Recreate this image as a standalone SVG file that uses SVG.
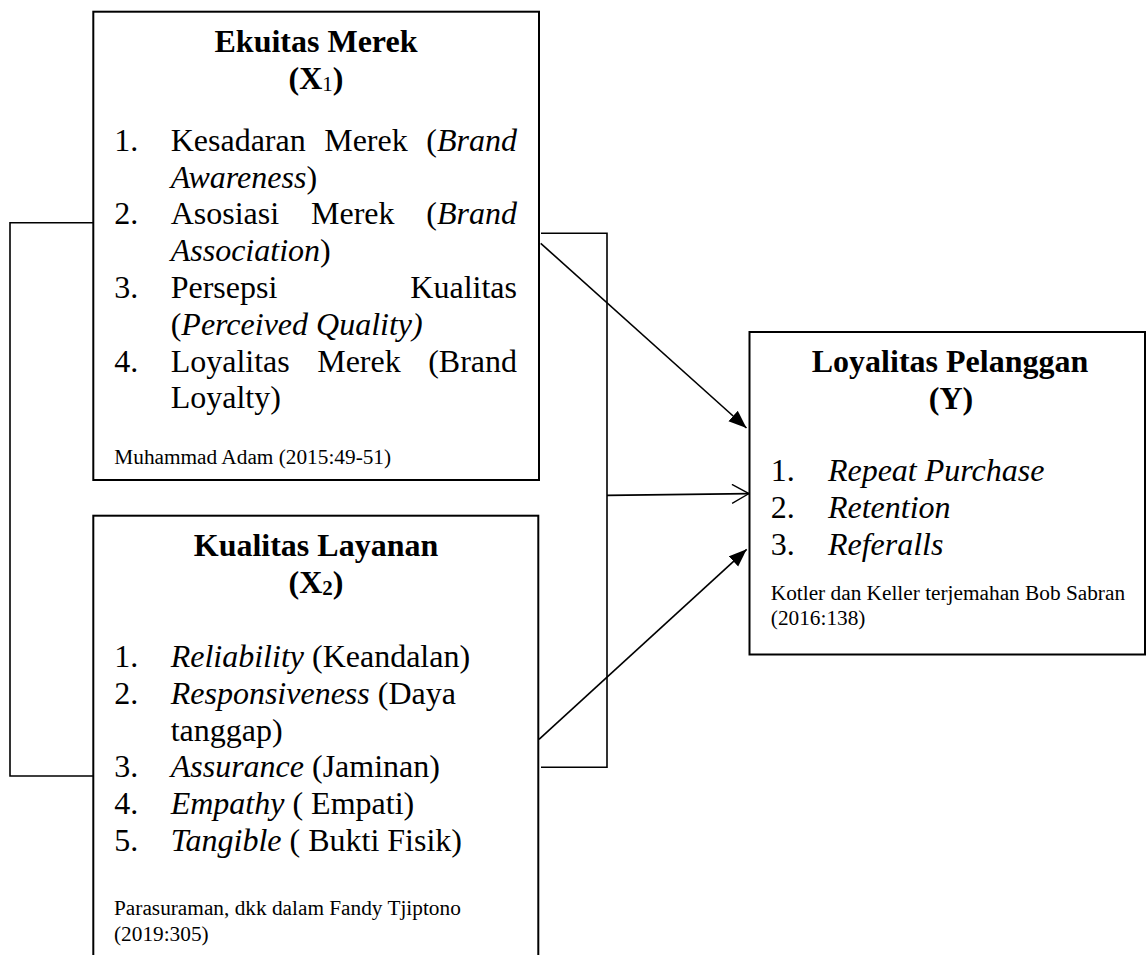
<svg xmlns="http://www.w3.org/2000/svg" width="1147" height="955" viewBox="0 0 1147 955">
<style>
text{font-family:"Liberation Serif","Times New Roman",serif;fill:#000}
.h{font-size:32px;font-weight:bold;text-anchor:middle}
.b{font-size:32px}
.s{font-size:21.3px}
.i{font-style:italic}
.sub{font-size:21px}
.box{fill:#fff;stroke:#000;stroke-width:2}
.ln{fill:none;stroke:#000;stroke-width:1.6}
</style>
<defs>
<marker id="ah" markerUnits="userSpaceOnUse" markerWidth="20" markerHeight="16" refX="18" refY="7" orient="auto"><path d="M0,0 L18,7 L0,14 z" fill="#000"/></marker>
<marker id="oh" markerUnits="userSpaceOnUse" markerWidth="20" markerHeight="22" refX="18" refY="10" orient="auto"><path d="M1,0.5 L18,10 L1,19.5" fill="none" stroke="#000" stroke-width="1.3"/></marker>
</defs>
<g id="connectors">
<polyline class="ln" points="93,222.7 10,222.7 10,776 93,776"/>
<polyline class="ln" points="541,233.3 607,233.3 607,767.3 541,767.3"/>
<line class="ln" x1="540.7" y1="243.3" x2="746.5" y2="428" marker-end="url(#ah)"/>
<line class="ln" x1="539" y1="739.3" x2="746.7" y2="549.3" marker-end="url(#ah)"/>
<line class="ln" x1="607" y1="495.4" x2="749" y2="493.6" stroke-width="1.2" marker-end="url(#oh)"/>
</g>
<g id="ekuitas-merek">
<rect class="box" x="93.3" y="11.7" width="445.7" height="468.3"/>
<text class="h" x="316" y="51.7">Ekuitas Merek</text>
<text class="h" x="316" y="89.3">(X<tspan class="sub" font-weight="normal" dy="2">1</tspan><tspan dy="-2">)</tspan></text>
<text class="b" x="114.3" y="150.7">1.</text>
<text class="b" x="170.7" y="150.7">Kesadaran</text>
<text class="b" x="324.2" y="150.7">Merek</text>
<text class="b" x="517" y="150.7" text-anchor="end">(<tspan class="i">Brand</tspan></text>
<text class="b" x="170.7" y="187.5"><tspan class="i">Awareness</tspan>)</text>
<text class="b" x="114.3" y="224.3">2.</text>
<text class="b" x="170.7" y="224.3">Asosiasi</text>
<text class="b" x="311" y="224.3">Merek</text>
<text class="b" x="517" y="224.3" text-anchor="end">(<tspan class="i">Brand</tspan></text>
<text class="b" x="170.7" y="261.1"><tspan class="i">Association</tspan>)</text>
<text class="b" x="114.3" y="297.9">3.</text>
<text class="b" x="170.7" y="297.9">Persepsi</text>
<text class="b" x="517" y="297.9" text-anchor="end">Kualitas</text>
<text class="b" x="170.7" y="334.7">(<tspan class="i">Perceived Quality)</tspan></text>
<text class="b" x="114.3" y="371.5">4.</text>
<text class="b" x="170.7" y="371.5">Loyalitas</text>
<text class="b" x="317.2" y="371.5">Merek</text>
<text class="b" x="517" y="371.5" text-anchor="end">(Brand</text>
<text class="b" x="170.7" y="408.3">Loyalty)</text>
<text class="s" x="114.3" y="464">Muhammad Adam (2015:49-51)</text>
</g>
<g id="kualitas-layanan">
<rect class="box" x="93.3" y="515.7" width="445" height="460"/>
<text class="h" x="316" y="556">Kualitas Layanan</text>
<text class="h" x="316" y="593.3">(X<tspan class="sub" dy="2">2</tspan><tspan dy="-2">)</tspan></text>
<text class="b" x="114.3" y="666.9">1.</text>
<text class="b" x="170.7" y="666.9"><tspan class="i">Reliability</tspan> (Keandalan)</text>
<text class="b" x="114.3" y="703.7">2.</text>
<text class="b" x="170.7" y="703.7"><tspan class="i">Responsiveness</tspan> (Daya</text>
<text class="b" x="170.7" y="740.5">tanggap)</text>
<text class="b" x="114.3" y="777.3">3.</text>
<text class="b" x="170.7" y="777.3"><tspan class="i">Assurance</tspan> (Jaminan)</text>
<text class="b" x="114.3" y="814.1">4.</text>
<text class="b" x="170.7" y="814.1"><tspan class="i">Empathy</tspan> ( Empati)</text>
<text class="b" x="114.3" y="850.9">5.</text>
<text class="b" x="170.7" y="850.9"><tspan class="i">Tangible</tspan> ( Bukti Fisik)</text>
<text class="s" x="114" y="915">Parasuraman, dkk dalam Fandy Tjiptono</text>
<text class="s" x="114" y="940.5">(2019:305)</text>
</g>
<g id="loyalitas-pelanggan">
<rect class="box" x="749.5" y="332" width="395.5" height="322.5"/>
<text class="h" x="950" y="371.8">Loyalitas Pelanggan</text>
<text class="h" x="951" y="409.3">(Y)</text>
<text class="b" x="770.8" y="480.7">1.</text>
<text class="b i" x="827.9" y="480.7">Repeat Purchase</text>
<text class="b" x="770.8" y="517.5">2.</text>
<text class="b i" x="827.9" y="517.5">Retention</text>
<text class="b" x="770.8" y="554.6">3.</text>
<text class="b i" x="827.9" y="554.6">Referalls</text>
<text class="s" x="770.8" y="600.4">Kotler dan Keller terjemahan Bob Sabran</text>
<text class="s" x="770.8" y="625.4">(2016:138)</text>
</g>
</svg>
